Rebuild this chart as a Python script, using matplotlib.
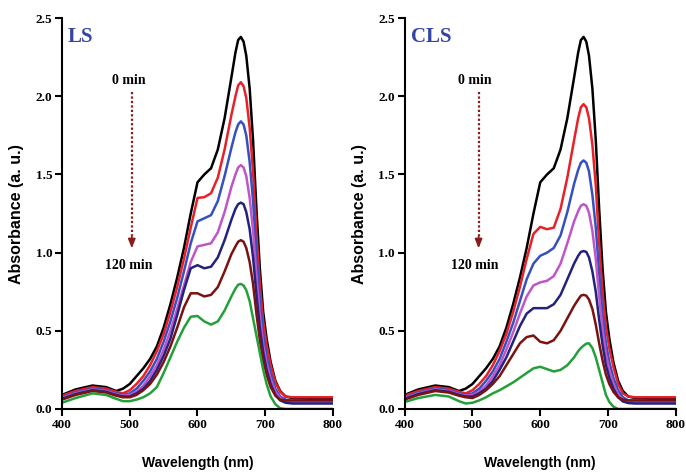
import matplotlib
matplotlib.use("Agg")
import matplotlib.pyplot as plt

# wavelength grid (nm) the spectra were read at
wavelength = [400, 420, 445, 465, 480, 490, 500, 510, 520, 530, 540, 550, 560, 570,
              580, 590, 600, 610, 620, 630, 640, 650, 656, 660, 664, 668, 672, 677,
              682, 687, 692, 697, 702, 708, 715, 722, 730, 740, 770, 800]

# 0 min spectrum (same in both panels)
abs_0min = [0.09, 0.125, 0.15, 0.14, 0.115, 0.13, 0.16, 0.21, 0.26, 0.32, 0.40, 0.52, 0.67, 0.84,
            1.03, 1.25, 1.45, 1.50, 1.54, 1.66, 1.86, 2.12, 2.28, 2.36, 2.38, 2.35, 2.26, 2.05,
            1.72, 1.28, 0.90, 0.62, 0.45, 0.30, 0.18, 0.115, 0.08, 0.07, 0.065, 0.065]

# LS panel
ls_red = [0.085, 0.115, 0.14, 0.13, 0.11, 0.10, 0.12, 0.16, 0.21, 0.28, 0.37, 0.48, 0.62, 0.78,
          0.96, 1.16, 1.35, 1.355, 1.38, 1.48, 1.66, 1.88, 2.00, 2.07, 2.09, 2.065, 1.99, 1.80,
          1.52, 1.13, 0.80, 0.56, 0.41, 0.28, 0.17, 0.11, 0.08, 0.075, 0.075, 0.075]
ls_blue = [0.075, 0.105, 0.13, 0.12, 0.10, 0.09, 0.10, 0.13, 0.18, 0.24, 0.32, 0.43, 0.56, 0.71,
           0.88, 1.06, 1.20, 1.22, 1.24, 1.33, 1.49, 1.67, 1.77, 1.82, 1.84, 1.82, 1.75, 1.58,
           1.33, 0.99, 0.70, 0.48, 0.34, 0.23, 0.13, 0.08, 0.06, 0.05, 0.05, 0.05]
ls_magenta = [0.07, 0.10, 0.125, 0.115, 0.095, 0.085, 0.09, 0.11, 0.15, 0.21, 0.28, 0.38, 0.50, 0.64,
              0.79, 0.94, 1.04, 1.05, 1.06, 1.13, 1.26, 1.42, 1.50, 1.545, 1.56, 1.545, 1.49, 1.35,
              1.14, 0.85, 0.60, 0.41, 0.29, 0.19, 0.11, 0.07, 0.05, 0.045, 0.045, 0.045]
ls_navy = [0.065, 0.095, 0.12, 0.11, 0.09, 0.08, 0.08, 0.10, 0.13, 0.18, 0.25, 0.34, 0.45, 0.60,
           0.76, 0.90, 0.92, 0.90, 0.91, 0.97, 1.08, 1.21, 1.28, 1.31, 1.32, 1.31, 1.26, 1.15,
           0.97, 0.73, 0.52, 0.36, 0.25, 0.16, 0.09, 0.055, 0.04, 0.035, 0.035, 0.035]
ls_maroon = [0.06, 0.09, 0.115, 0.105, 0.085, 0.075, 0.075, 0.09, 0.12, 0.16, 0.22, 0.30, 0.40, 0.52,
             0.65, 0.74, 0.74, 0.72, 0.73, 0.78, 0.88, 0.99, 1.04, 1.07, 1.08, 1.07, 1.03, 0.94,
             0.80, 0.61, 0.44, 0.31, 0.22, 0.14, 0.085, 0.06, 0.055, 0.055, 0.055, 0.055]
ls_green = [0.04, 0.07, 0.10, 0.09, 0.065, 0.05, 0.05, 0.06, 0.075, 0.10, 0.14, 0.23, 0.33, 0.43,
            0.52, 0.59, 0.595, 0.56, 0.54, 0.56, 0.63, 0.72, 0.77, 0.795, 0.80, 0.79, 0.76, 0.69,
            0.58, 0.47, 0.36, 0.25, 0.16, 0.08, 0.03, 0.005, 0.0, 0.0, 0.0, 0.0]

# CLS panel
cls_red = [0.085, 0.115, 0.14, 0.13, 0.11, 0.10, 0.12, 0.16, 0.21, 0.28, 0.37, 0.48, 0.62, 0.78,
           0.96, 1.12, 1.165, 1.15, 1.16, 1.28, 1.48, 1.72, 1.86, 1.93, 1.95, 1.93, 1.86, 1.69,
           1.43, 1.06, 0.75, 0.53, 0.39, 0.27, 0.16, 0.10, 0.08, 0.075, 0.075, 0.075]
cls_blue = [0.075, 0.105, 0.13, 0.12, 0.10, 0.09, 0.10, 0.13, 0.18, 0.24, 0.32, 0.43, 0.55, 0.69,
            0.83, 0.93, 0.98, 1.00, 1.03, 1.11, 1.26, 1.44, 1.53, 1.575, 1.59, 1.575, 1.52, 1.37,
            1.16, 0.87, 0.61, 0.42, 0.30, 0.20, 0.12, 0.075, 0.055, 0.05, 0.05, 0.05]
cls_magenta = [0.07, 0.10, 0.125, 0.115, 0.095, 0.085, 0.09, 0.11, 0.15, 0.21, 0.28, 0.38, 0.49, 0.61,
               0.72, 0.79, 0.81, 0.82, 0.85, 0.93, 1.06, 1.20, 1.265, 1.30, 1.31, 1.30, 1.255, 1.14,
               0.96, 0.72, 0.51, 0.35, 0.25, 0.16, 0.095, 0.06, 0.045, 0.045, 0.045, 0.045]
cls_navy = [0.065, 0.095, 0.12, 0.11, 0.09, 0.08, 0.08, 0.10, 0.13, 0.18, 0.25, 0.33, 0.43, 0.53,
            0.61, 0.645, 0.645, 0.645, 0.67, 0.73, 0.83, 0.93, 0.98, 1.005, 1.01, 1.005, 0.97, 0.88,
            0.75, 0.57, 0.41, 0.28, 0.20, 0.13, 0.075, 0.048, 0.038, 0.035, 0.035, 0.035]
cls_maroon = [0.06, 0.09, 0.115, 0.105, 0.085, 0.075, 0.07, 0.09, 0.12, 0.16, 0.21, 0.28, 0.35, 0.42,
              0.46, 0.47, 0.43, 0.42, 0.44, 0.50, 0.58, 0.66, 0.70, 0.725, 0.73, 0.725, 0.70, 0.64,
              0.54, 0.42, 0.31, 0.22, 0.16, 0.11, 0.075, 0.06, 0.055, 0.055, 0.055, 0.055]
cls_green = [0.045, 0.07, 0.09, 0.08, 0.05, 0.035, 0.04, 0.055, 0.075, 0.10, 0.12, 0.145, 0.17, 0.20,
             0.23, 0.26, 0.27, 0.255, 0.24, 0.25, 0.28, 0.33, 0.37, 0.39, 0.405, 0.418, 0.42, 0.39,
             0.33, 0.25, 0.17, 0.09, 0.045, 0.015, 0.0, 0.0, 0.0, 0.0, 0.0, 0.0]

colors = ["black", "#e8202a", "#3550c0", "#c055c8", "#23237e", "#7a1212", "#23a03a"]
panels = [("LS", [abs_0min, ls_red, ls_blue, ls_magenta, ls_navy, ls_maroon, ls_green], 503),
          ("CLS", [abs_0min, cls_red, cls_blue, cls_magenta, cls_navy, cls_maroon, cls_green], 509)]

serif_b = dict(family="Liberation Serif", weight="bold")
sans_b = dict(family="Liberation Sans", weight="bold")

fig = plt.figure(figsize=(6.86, 4.72), dpi=100)
lefts = [0.0904, 0.590]

for (name, series, arrow_x), left in zip(panels, lefts):
    ax = fig.add_axes([left, 0.1335, 0.395, 0.828])
    for y, c in zip(series, colors):
        ax.plot(wavelength, y, color=c, lw=1.8, solid_joinstyle="round")
    ax.set_xlim(400, 800)
    ax.set_ylim(0, 2.5)
    ax.set_xticks([400, 500, 600, 700, 800])
    ax.set_yticks([0.0, 0.5, 1.0, 1.5, 2.0, 2.5])
    ax.set_yticklabels(["0.0", "0.5", "1.0", "1.5", "2.0", "2.5"])
    for sp in ["top", "right"]:
        ax.spines[sp].set_visible(False)
    for sp in ["left", "bottom"]:
        ax.spines[sp].set_linewidth(1.5)
    ax.tick_params(direction="out", length=5, width=1.5, pad=2)
    for lab in ax.get_xticklabels() + ax.get_yticklabels():
        lab.set_fontfamily("Liberation Serif")
        lab.set_fontweight("bold")
        lab.set_fontsize(9.5)
    ax.set_xlabel("Wavelength (nm)", fontsize=10, labelpad=18, **sans_b)
    ax.set_ylabel("Absorbance (a. u.)", fontsize=11.5, **sans_b)
    ax.yaxis.set_label_coords(-0.14, 0.5)

    ax.text(409, 2.38, name, color="#3545a5", fontsize=15, va="center", ha="left", **serif_b)
    ax.text(arrow_x - 5, 2.10, "0 min", fontsize=10, ha="center", va="center", **serif_b)
    ax.text(arrow_x - 5, 0.92, "120 min", fontsize=10, ha="center", va="center", **serif_b)
    ax.plot([arrow_x, arrow_x], [2.03, 1.08], color="#8b1a1a", lw=1.6, ls=(0, (1, 1)))
    ax.annotate("", xy=(arrow_x, 1.01), xytext=(arrow_x, 1.12),
                arrowprops=dict(arrowstyle="-|>,head_width=0.22,head_length=0.55",
                                color="#8b1a1a", lw=1.2))

plt.savefig("out.png", dpi=100)
